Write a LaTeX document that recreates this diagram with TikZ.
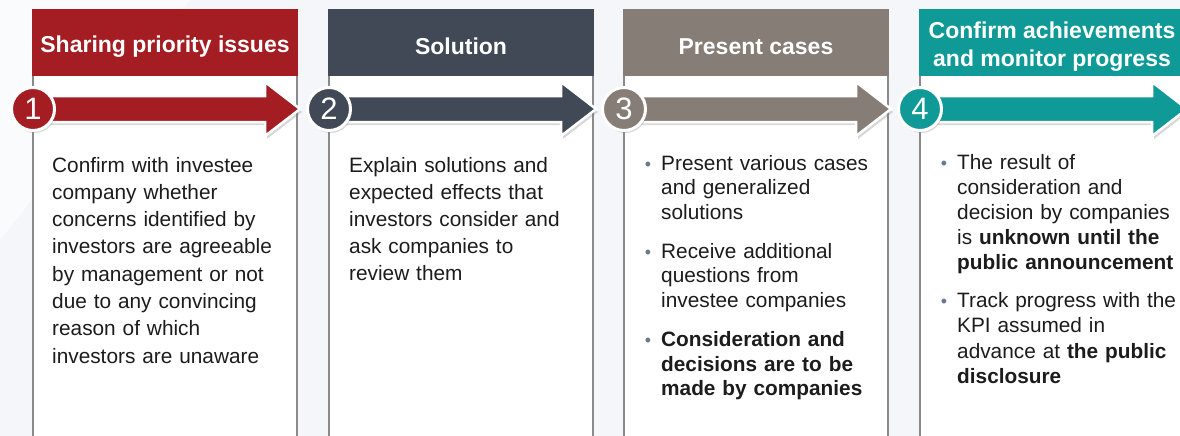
\documentclass[tikz,border=0pt]{standalone}
\usepackage{fontspec}
\setmainfont{Liberation Sans}
\usetikzlibrary{calc,shadows}

\definecolor{bgblue}{HTML}{F4F6FA}
\definecolor{stepred}{HTML}{A31D22}
\definecolor{stepslate}{HTML}{414856}
\definecolor{steptaupe}{HTML}{877D77}
\definecolor{stepteal}{HTML}{0F9A97}
\definecolor{framegray}{HTML}{8A8A8A}
\definecolor{dotgray}{HTML}{6A7A8C}
\definecolor{inkgray}{HTML}{1C1C1C}

% bullet hung in the left margin of a text node
\newcommand{\bul}{\noindent\llap{\textcolor{dotgray}{\fontsize{18}{18}\selectfont•}\hspace{10pt}}}

\tikzset{
  head/.style={inner sep=0, text=white, align=center,
    font=\fontsize{23}{28}\selectfont\bfseries},
  frame/.style={framegray, line width=1.6},
  numdot/.style={circle, fill=#1, draw=white, line width=3, minimum size=43,
    inner sep=0, text=white, font=\fontsize{31}{31}\selectfont,
    drop shadow={shadow xshift=1.5pt, shadow yshift=-2.5pt, opacity=0.3}},
  arrowbody/.style={fill=#1, draw=white, line width=2.5, line join=miter,
    drop shadow={shadow xshift=2pt, shadow yshift=-3pt, opacity=0.3}},
  body/.style={inner sep=0, anchor=base west, align=left, text width=240,
    text=inkgray, font=\fontsize{20.8}{27.3}\selectfont},
}

\begin{document}
\begin{tikzpicture}[x=1pt, y=-1pt]
  \useasboundingbox (0,0) rectangle (1180,436);
  \fill[bgblue] (0,0) rectangle (1180,436);
  \fill[white, opacity=0.6] (0,0) -- (190,0) -- (0,240) -- cycle;

  % columns: panel, title bar, arrow and number
  \foreach \i/\x/\c/\t in {1/32/stepred/{Sharing priority issues},
      2/328/stepslate/{Solution},
      3/623/steptaupe/{Present cases},
      4/919/stepteal/{Confirm achievements\\and monitor progress}} {
    \fill[white] (\x,76) rectangle (\x+266,440);
    \draw[frame] (\x+1,76) -- (\x+1,440) (\x+265,76) -- (\x+265,440);
    \fill[\c] (\x,9) rectangle (\x+266,76);
    \node[head] (h\i) at (\x+133,46.5) {\t};
    \coordinate (c\i) at (\x+1,109);
    \draw[arrowbody=\c] ($(c\i)+(0,-13)$) -- ++(232,0) -- ++(0,-14)
      -- ++(35,27) -- ++(-35,27) -- ++(0,-14) -- ++(-232,0) -- cycle;
    \node[numdot=\c] (n\i) at (c\i) {\i};
  }

  \node[body] (t1) at (52,172) {Confirm with investee\\company whether\\concerns identified by\\investors are agreeable\\by management or not\\due to any convincing\\reason of which\\investors are unaware};

  \node[body, font=\fontsize{20.8}{27}\selectfont] (t2) at (349,172) {Explain solutions and\\expected effects that\\investors consider and\\ask companies to\\review them};

  \node[body, font=\fontsize{20.8}{24.6}\selectfont] (t3) at (661,170)
    {\bul Present various cases\\and generalized\\solutions\par\vspace{14.4pt}
     \bul Receive additional\\questions from\\investee companies\par\vspace{14.4pt}
     \bul\textbf{Consideration and\\decisions are to be\\made by companies}};

  \node[body, font=\fontsize{20.8}{25.2}\selectfont] (t4) at (957,169)
    {\bul The result of\\consideration and\\decision by companies\\is \textbf{unknown until the}\\\textbf{public announcement}\par\vspace{12.6pt}
     \bul Track progress with the\\KPI assumed in\\advance at \textbf{the public}\\\textbf{disclosure}};
\end{tikzpicture}
\end{document}
